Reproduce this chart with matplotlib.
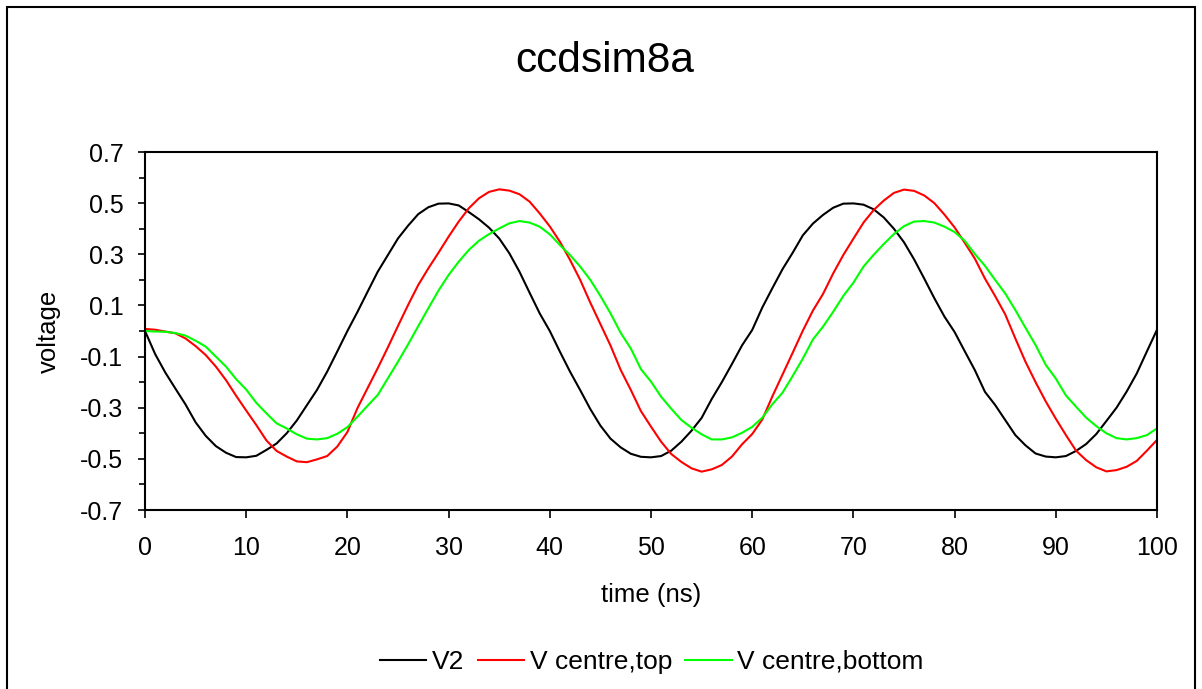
import matplotlib
matplotlib.use('Agg')
import matplotlib.pyplot as plt
from matplotlib.patches import Rectangle
from matplotlib.ticker import MultipleLocator, FixedLocator

plt.rcParams.update({
    'font.family': ['Liberation Sans', 'DejaVu Sans'],
    'axes.unicode_minus': False,
})

# time axis (ns), one sample per ns
time_ns = list(range(0, 101))

# values, 0..100 ns
v2 = [0.0, -0.09, -0.162, -0.225, -0.287, -0.357, -0.41, -0.45, -0.476, -0.493,
      -0.494, -0.488, -0.465, -0.44, -0.40, -0.35, -0.29, -0.23, -0.159, -0.08,
      0.0, 0.075, 0.154, 0.232, 0.297, 0.362, 0.412, 0.457, 0.484, 0.498,
      0.499, 0.491, 0.465, 0.437, 0.404, 0.362, 0.304, 0.232, 0.15, 0.069,
      0.0, -0.081, -0.159, -0.231, -0.305, -0.37, -0.421, -0.455, -0.48, -0.492,
      -0.494, -0.489, -0.468, -0.433, -0.39, -0.34, -0.266, -0.2, -0.129, -0.056,
      0.004, 0.092, 0.168, 0.242, 0.306, 0.374, 0.42, 0.454, 0.482, 0.498,
      0.499, 0.494, 0.476, 0.444, 0.40, 0.347, 0.28, 0.205, 0.128, 0.056,
      -0.004, -0.079, -0.153, -0.238, -0.289, -0.348, -0.407, -0.447, -0.479, -0.491,
      -0.494, -0.489, -0.469, -0.442, -0.403, -0.352, -0.30, -0.237, -0.166, -0.08,
      0.005]

v_top = [0.008, 0.005, -0.002, -0.009, -0.029, -0.059, -0.094, -0.139, -0.192, -0.253,
         -0.311, -0.368, -0.428, -0.469, -0.491, -0.51, -0.513, -0.502, -0.489, -0.452,
         -0.395, -0.301, -0.223, -0.145, -0.064, 0.02, 0.102, 0.18, 0.245, 0.306,
         0.369, 0.428, 0.48, 0.519, 0.544, 0.554, 0.549, 0.535, 0.506, 0.46,
         0.409, 0.349, 0.278, 0.2, 0.111, 0.027, -0.057, -0.152, -0.23, -0.313,
         -0.374, -0.433, -0.481, -0.512, -0.537, -0.55, -0.541, -0.524, -0.491, -0.443,
         -0.403, -0.346, -0.255, -0.17, -0.085, 0.001, 0.08, 0.145, 0.225, 0.297,
         0.361, 0.424, 0.473, 0.51, 0.54, 0.553, 0.548, 0.53, 0.50, 0.455,
         0.405, 0.345, 0.283, 0.205, 0.137, 0.065, -0.029, -0.12, -0.2, -0.275,
         -0.343, -0.407, -0.468, -0.505, -0.533, -0.549, -0.544, -0.531, -0.508, -0.468,
         -0.426]

v_bottom = [0.0, -0.002, -0.003, -0.008, -0.018, -0.038, -0.061, -0.10, -0.139, -0.188,
            -0.229, -0.281, -0.322, -0.361, -0.381, -0.404, -0.421, -0.424, -0.419, -0.402,
            -0.376, -0.335, -0.292, -0.25, -0.185, -0.12, -0.052, 0.019, 0.089, 0.158,
            0.219, 0.271, 0.317, 0.353, 0.379, 0.401, 0.421, 0.43, 0.424, 0.408,
            0.378, 0.336, 0.297, 0.252, 0.2, 0.137, 0.069, -0.007, -0.068, -0.149,
            -0.198, -0.257, -0.304, -0.348, -0.378, -0.404, -0.424, -0.424, -0.416, -0.398,
            -0.375, -0.339, -0.286, -0.241, -0.176, -0.108, -0.033, 0.017, 0.075, 0.137,
            0.189, 0.252, 0.298, 0.34, 0.379, 0.41, 0.428, 0.43, 0.424, 0.408,
            0.387, 0.353, 0.301, 0.255, 0.2, 0.147, 0.082, 0.013, -0.055, -0.132,
            -0.186, -0.252, -0.296, -0.339, -0.372, -0.4, -0.419, -0.424, -0.419, -0.407,
            -0.381]

series_names = ['V2', 'V centre,top', 'V centre,bottom']
series_colors = ['#000000', '#FF0000', '#00FF00']

y_ticks = [-0.7, -0.5, -0.3, -0.1, 0.1, 0.3, 0.5, 0.7]
y_ticklabels = ['-0.7', '-0.5', '-0.3', '-0.1', '0.1', '0.3', '0.5', '0.7']
y_minor = [-0.6, -0.4, -0.2, 0.0, 0.2, 0.4, 0.6]

fig = plt.figure(figsize=(12.02, 6.89), dpi=100)
ax = fig.add_axes([145 / 1202, 1 - 510 / 689, (1157 - 145) / 1202, (510 - 152) / 689])

for vals, name, col in zip([v2, v_top, v_bottom], series_names, series_colors):
    ax.plot(time_ns, vals, color=col, lw=1.5, label=name)

ax.set_xlim(0, 100)
ax.set_ylim(-0.7, 0.7)
ax.xaxis.set_major_locator(MultipleLocator(10))
ax.yaxis.set_major_locator(FixedLocator(y_ticks))
ax.set_yticklabels(y_ticklabels)
ax.yaxis.set_minor_locator(FixedLocator(y_minor))
ax.tick_params(axis='x', which='major', direction='out', length=5.5, width=1.2,
               labelsize=18, pad=13)
ax.tick_params(axis='y', which='major', direction='out', length=5, width=1.2,
               labelsize=18, pad=10.5)
ax.tick_params(axis='y', which='minor', direction='out', length=4, width=1.2)
for s in ax.spines.values():
    s.set_linewidth(1.5)

ax.set_xlabel('time (ns)', fontsize=18.5, labelpad=17)
ax.set_ylabel('voltage', fontsize=18.5, labelpad=14)
fig.text(605 / 1202, 1 - 61 / 689, 'ccdsim8a', fontsize=30.5, ha='center', va='center')

fig.legend(loc='center', bbox_to_anchor=(652 / 1202, 1 - 662 / 689), ncol=3,
           frameon=False, fontsize=19, handlelength=1.75, handletextpad=0.22,
           columnspacing=0.5)

# outer chart border (bottom edge runs off the image)
fig.patches.append(Rectangle((7 / 1202, -0.05), (1195 - 7) / 1202, 1.05 - 7 / 689,
                             transform=fig.transFigure, fill=False, lw=1.5,
                             edgecolor='black'))

fig.savefig('out.png', dpi=100)
